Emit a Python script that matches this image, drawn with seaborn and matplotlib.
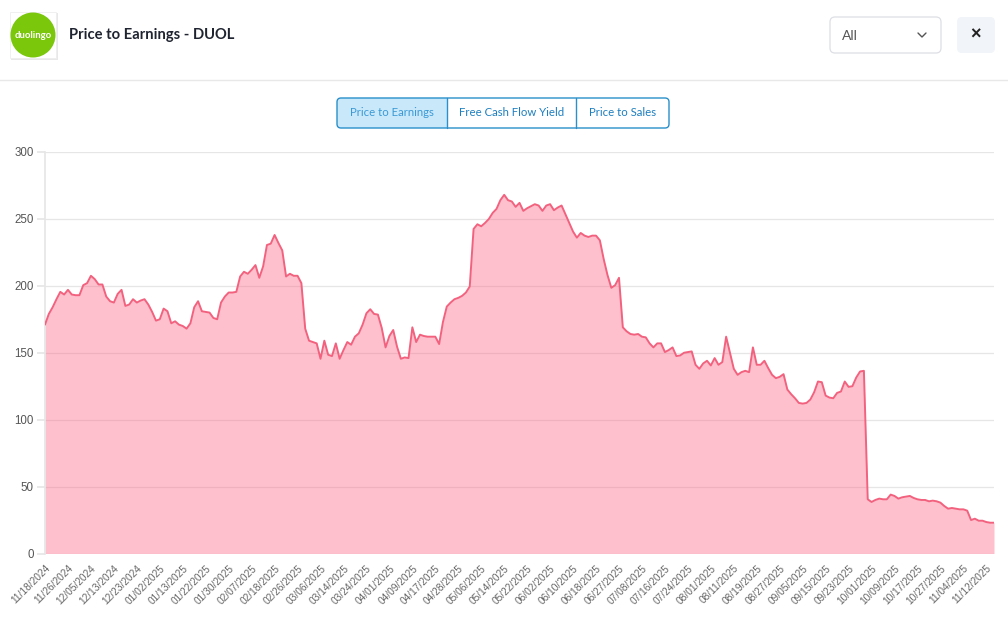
import matplotlib
matplotlib.use("Agg")
import matplotlib.pyplot as plt
import seaborn as sns
import pandas as pd
from matplotlib.patches import FancyBboxPatch, Rectangle, Circle

# P/E values, one per trading day (11/18/2024 .. 11/14/2025)
pe_values = [
    171, 179, 184, 190, 195.5, 193.5, 197, 193.5, 193, 193,
    200.5, 202, 207.5, 205, 201, 201, 192, 188.5, 187.5, 194,
    197, 185, 186, 190, 187.5, 189, 190, 186, 180.5, 174,
    175, 183, 181, 172, 173.5, 171, 170, 168, 172, 184,
    188.5, 181, 180.5, 180, 176, 175, 187.5, 192, 195, 195,
    195.5, 207, 210.5, 209, 212, 215.5, 206, 214.5, 230.5, 231.5,
    238, 232, 226.5, 207, 209, 207.5, 207.5, 202, 168, 159,
    158, 157, 145.5, 159, 148.5, 147.5, 157, 145.5,
    152, 158, 156, 162, 164.5, 171, 179.5, 182.5, 179, 178.5,
    168.5, 154, 162.5, 167, 154.5, 145.5, 146.5, 146, 169, 158,
    163.5, 162.5, 162, 162, 162, 156.5, 173, 184.5, 187.5, 190,
    191, 192.5, 195, 199.5, 242.5, 246, 244.5, 247, 250, 254.5,
    257.5, 264, 268, 264, 263, 259, 262, 256, 258, 259.5,
    261, 260, 256, 260, 261, 256.5, 258.5, 260, 253.5, 247,
    240.5, 236, 239.5, 237.5, 236.5, 237.5, 237.5, 234, 220, 208,
    198.5, 200.5, 206, 169, 166, 164, 163.5, 164, 162, 161.5,
    157, 154, 157, 157, 150.5, 152,
    154, 147.5, 148, 150, 150.5, 151, 141, 138, 142, 144,
    140.5, 146, 141, 143, 162, 150, 138, 133.5, 135.5, 136.5,
    135.5, 154, 141, 141, 144, 138.5, 133.5, 131, 132, 134,
    122.5, 119, 116, 112.5, 112, 112.5, 115, 120.5, 128.5, 128,
    118, 116.5, 116, 120, 121, 128.5, 124.5, 125, 131.5, 136,
    136.5, 40.5, 38.5, 40, 41, 40.5, 40.5, 44, 43, 41,
    42, 42.5, 43, 41.5, 40.5, 40, 40, 39, 39.5, 39,
    38, 35.5, 33.5, 34, 33.5, 33, 33, 32, 25, 26,
    24.5, 24.5, 23.5, 23, 23,
]

# labels shown on the x axis (every 6th trading day)
tick_labels = [
    "11/18/2024", "11/26/2024", "12/05/2024", "12/13/2024", "12/23/2024",
    "01/02/2025", "01/13/2025", "01/22/2025", "01/30/2025", "02/07/2025",
    "02/18/2025", "02/26/2025", "03/06/2025", "03/14/2025", "03/24/2025",
    "04/01/2025", "04/09/2025", "04/17/2025", "04/28/2025", "05/06/2025",
    "05/14/2025", "05/22/2025", "06/02/2025", "06/10/2025", "06/18/2025",
    "06/27/2025", "07/08/2025", "07/16/2025", "07/24/2025", "08/01/2025",
    "08/11/2025", "08/19/2025", "08/27/2025", "09/05/2025", "09/15/2025",
    "09/23/2025", "10/01/2025", "10/09/2025", "10/17/2025", "10/27/2025",
    "11/04/2025", "11/12/2025",
]

tabs = ["Price to Earnings", "Free Cash Flow Yield", "Price to Sales"]
y_ticks = [0, 50, 100, 150, 200, 250, 300]

df = pd.DataFrame({"day": range(len(pe_values)), "pe": pe_values})

sns.set_theme(style="white")
plt.rcParams["font.family"] = ["Liberation Sans", "DejaVu Sans"]

line_color = "#f2627f"
fill_color = (1.0, 0.388, 0.518, 0.4)

fig = plt.figure(figsize=(10.08, 6.23), dpi=100)
fig.patch.set_facecolor("white")

W, H = 1008, 623
ax = fig.add_axes([45 / W, 1 - 553.5 / H, (994 - 45) / W, (553.5 - 152) / H])

ax.fill_between(df["day"], df["pe"], 0, color=fill_color, linewidth=0, zorder=2)
sns.lineplot(data=df, x="day", y="pe", color=line_color, linewidth=1.4, ax=ax, zorder=3)

ax.set_xlim(0, len(pe_values) - 1)
ax.set_ylim(0, 300)
ax.set_yticks(y_ticks)
ax.set_yticklabels([str(v) for v in y_ticks], fontsize=8.3, color="#555555")
ax.set_xticks(range(0, 6 * len(tick_labels), 6))
ax.set_xticklabels(tick_labels, rotation=45, ha="right", rotation_mode="anchor",
                   fontsize=7.3, color="#666666")
ax.set_xlabel("")
ax.set_ylabel("")
ax.grid(axis="y", color="#e6e6e6", linewidth=0.9, zorder=0)
ax.grid(axis="x", visible=False)
for side in ["top", "right", "bottom"]:
    ax.spines[side].set_visible(False)
ax.spines["left"].set_color("#e6e6e6")
ax.tick_params(axis="y", length=6, color="#e6e6e6", pad=2, left=True)
ax.tick_params(axis="x", length=0, pad=7)

# header / overlay in pixel coordinates
ov = fig.add_axes([0, 0, 1, 1], zorder=-1)
ov.set_xlim(0, W)
ov.set_ylim(H, 0)
ov.axis("off")

# logo
ov.add_patch(Rectangle((11, 13), 47, 47, facecolor="#e8e8e8", edgecolor="none"))
ov.add_patch(Rectangle((10, 12), 46, 46, facecolor="white", edgecolor="#eeeeee", linewidth=0.6))
ov.add_patch(Circle((33, 35), 22.5, facecolor="#7ac70c", edgecolor="none"))
ov.text(33, 35.5, "duolingo", color="white", fontsize=6.8, fontweight="bold",
        ha="center", va="center", family=["Lato", "DejaVu Sans"])
ov.text(69, 35, "Price to Earnings - DUOL", fontsize=10.6, fontweight="bold",
        color="#1f2430", ha="left", va="center", family=["Lato", "DejaVu Sans"])

# dropdown
ov.add_patch(FancyBboxPatch((830, 17), 111, 36, boxstyle="round,pad=0,rounding_size=5",
                            facecolor="white", edgecolor="#dcdfe4", linewidth=0.9))
ov.text(842, 35.5, "All", fontsize=10, color="#555555", ha="left", va="center",
        family=["Lato", "DejaVu Sans"])
ov.plot([918, 922, 926], [33, 37, 33], color="#555555", linewidth=1)

# close button
ov.add_patch(FancyBboxPatch((957, 17), 38, 36, boxstyle="round,pad=0,rounding_size=5",
                            facecolor="#f1f4f8", edgecolor="none"))
ov.text(975.5, 35, "\u00d7", fontsize=13, fontweight="bold", color="#222222",
        ha="center", va="center")

ov.plot([0, W], [79.5, 79.5], color="#e8e8e8", linewidth=1)

# tab buttons
tab_edges = [337, 447, 576, 669]
ov.add_patch(FancyBboxPatch((337, 98), 332, 30, boxstyle="round,pad=0,rounding_size=4",
                            facecolor="white", edgecolor="none"))
ov.add_patch(FancyBboxPatch((337, 98), 110, 30, boxstyle="round,pad=0,rounding_size=4",
                            facecolor="#c9e8fa", edgecolor="none"))
ov.add_patch(Rectangle((437, 98), 10, 30, facecolor="#c9e8fa", edgecolor="none"))
ov.add_patch(FancyBboxPatch((337, 98), 332, 30, boxstyle="round,pad=0,rounding_size=4",
                            facecolor="none", edgecolor="#2a8fcb", linewidth=1))
for xe in tab_edges[1:-1]:
    ov.plot([xe, xe], [98, 128], color="#2a8fcb", linewidth=1)
for i, label in enumerate(tabs):
    cx = (tab_edges[i] + tab_edges[i + 1]) / 2
    ov.text(cx, 113, label, fontsize=8.2, color="#3b9ad6" if i == 0 else "#1d7fc0",
            ha="center", va="center", family=["Lato", "DejaVu Sans"])

fig.savefig("out.png", dpi=100, facecolor="white")
